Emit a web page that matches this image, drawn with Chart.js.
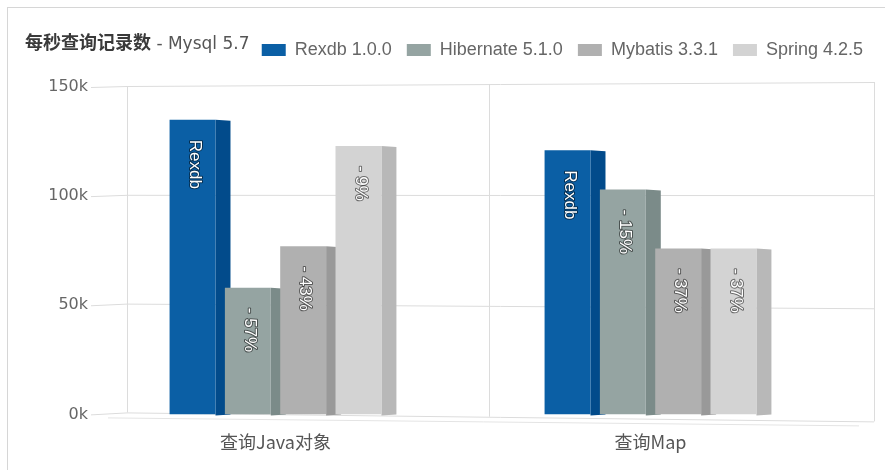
<!DOCTYPE html>
<html>
<head>
<meta charset="utf-8">
<script src="https://cdn.jsdelivr.net/npm/chart.js@4/dist/chart.umd.min.js"></script>
<style>
  body { margin: 0; background: #fff; }
  #wrap { position: relative; width: 885px; height: 470px; overflow: hidden; }
  #frame { position: absolute; left: 7px; top: 7px; width: 920px; height: 520px; border: 1px solid #d6d6d6; }
  #title { position: absolute; left: 25px; top: 28px; font: 17px "DejaVu Sans", sans-serif; color: #555; white-space: nowrap; }
  #title b { font: bold 18px "Noto Sans CJK SC", sans-serif; color: #3a3a3a; }
  canvas { position: absolute; left: 0; top: 0; }
</style>
</head>
<body>
<div id="wrap">
  <div id="frame"></div>
  <canvas id="chart" width="885" height="470"></canvas>
  <div id="title"><b>每秒查询记录数</b> - Mysql 5.7</div>
</div>
<script>
// data
const categories = ['查询Java对象', '查询Map'];
const seriesNames = ['Rexdb 1.0.0', 'Hibernate 5.1.0', 'Mybatis 3.3.1', 'Spring 4.2.5'];
const rexdbValues = [135000, 121000];
const hibernateValues = [58000, 103000];
const mybatisValues = [77000, 76000];
const springValues = [123000, 76000];
const yTickValues = [0, 50000, 100000, 150000];

const frontColors = ['#0b5fa5', '#95a4a2', '#b0b0b0', '#d3d3d3'];
const sideColors = ['#024b8b', '#7b8b89', '#999999', '#b8b8b8'];
const SIDE = 15;

// push the plot down below the legend row
const legendGap = {
  id: 'legendGap',
  beforeInit(chart) {
    const fit = chart.legend.fit;
    chart.legend.fit = function () {
      fit.bind(chart.legend)();
      this.height += 18;
    };
  }
};

// fake 3d: back wall, grid, bar side faces, rotated labels
const depth3d = {
  id: 'depth3d',
  beforeDatasetsDraw(chart) {
    const ctx = chart.ctx, a = chart.chartArea, xs = chart.scales.x, ys = chart.scales.y;
    const L = a.left + 39, R = a.right + 36;
    const topY = px => a.top - 1 - 4 * (px - L) / (R - L);
    const botY = px => a.bottom - 2 + 9 * (px - L) / (R - L);
    ctx.save();
    ctx.strokeStyle = '#dcdcdc';
    ctx.lineWidth = 1;
    ys.ticks.forEach(t => {
      const py = ys.getPixelForValue(t.value);
      const f = (py - a.top) / (a.bottom - a.top);
      const dl = -1 - f, dr = -5 + f * 12;
      ctx.beginPath();
      ctx.moveTo(a.left + 3, py + 0.5);
      ctx.lineTo(L, py + dl + 0.5);
      ctx.lineTo(R, py + dr + 0.5);
      ctx.stroke();
    });
    const mid = (xs.getPixelForTick(0) + xs.getPixelForTick(1)) / 2 + 26;
    [L, mid, R].forEach(px => {
      ctx.beginPath();
      ctx.moveTo(Math.round(px) + 0.5, topY(px));
      ctx.lineTo(Math.round(px) + 0.5, botY(px));
      ctx.stroke();
    });
    ctx.strokeStyle = '#e4e4e4';
    ctx.beginPath();
    ctx.moveTo(a.left + 20, a.bottom + 3.5);
    ctx.lineTo(R - 15, a.bottom + 11.5);
    ctx.stroke();

    chart.data.datasets.forEach((ds, i) => {
      chart.getDatasetMeta(i).data.forEach(bar => {
        const p = bar.getProps(['x', 'y', 'base', 'width'], true);
        const r = p.x + p.width / 2;
        ctx.fillStyle = sideColors[i];
        ctx.beginPath();
        ctx.moveTo(r, p.y);
        ctx.lineTo(r + SIDE, p.y + 1);
        ctx.lineTo(r + SIDE, p.base);
        ctx.lineTo(r, p.base + 1);
        ctx.closePath();
        ctx.fill();
      });
    });
    ctx.restore();
  },
  afterDatasetsDraw(chart) {
    const ctx = chart.ctx;
    const base = chart.data.datasets[0].data;
    ctx.save();
    ctx.font = '17px "Liberation Sans", sans-serif';
    ctx.textAlign = 'left';
    ctx.textBaseline = 'middle';
    ctx.lineJoin = 'round';
    chart.data.datasets.forEach((ds, i) => {
      chart.getDatasetMeta(i).data.forEach((bar, j) => {
        const v = ds.data[j];
        const label = i === 0 ? seriesNames[0].split(' ')[0]
          : '- ' + Math.round((1 - v / base[j]) * 100) + '%';
        const p = bar.getProps(['x', 'y'], true);
        ctx.save();
        ctx.translate(p.x + 2, p.y + 20);
        ctx.rotate(Math.PI / 2);
        ctx.strokeStyle = 'rgba(0,0,0,0.5)';
        ctx.lineWidth = 2;
        ctx.strokeText(label, 0, 0);
        ctx.fillStyle = '#fff';
        ctx.fillText(label, 0, 0);
        ctx.restore();
      });
    });
    ctx.restore();
  }
};

const allValues = [rexdbValues, hibernateValues, mybatisValues, springValues];

new Chart(document.getElementById('chart'), {
  type: 'bar',
  data: {
    labels: categories,
    datasets: seriesNames.map((name, i) => ({
      label: name,
      data: allValues[i],
      backgroundColor: frontColors[i],
      borderWidth: 0,
      categoryPercentage: 0.59,
      barPercentage: 0.83
    }))
  },
  options: {
    responsive: false,
    animation: false,
    layout: { padding: { top: 26, right: 7, bottom: 0, left: 0 } },
    plugins: {
      tooltip: { enabled: false },
      legend: {
        position: 'top',
        align: 'end',
        labels: {
          boxWidth: 24,
          boxHeight: 12,
          padding: 15,
          color: '#666',
          font: { family: 'Liberation Sans', size: 18 }
        }
      }
    },
    scales: {
      x: {
        grid: { display: false, drawTicks: false },
        border: { display: false },
        ticks: {
          color: '#555',
          padding: 17,
          font: { family: 'Noto Sans CJK SC', size: 18 }
        }
      },
      y: {
        min: 0,
        max: 150000,
        afterFit: s => { s.width = 88; },
        afterBuildTicks: s => { s.ticks = yTickValues.map(v => ({ value: v })); },
        grid: { display: false, drawTicks: false },
        border: { display: false },
        ticks: {
          padding: 0,
          color: '#666',
          font: { family: 'DejaVu Sans', size: 16 },
          callback: v => (v / 1000) + 'k'
        }
      },
      yRight: {
        position: 'right',
        afterFit: s => { s.width = 40; },
        grid: { display: false, drawTicks: false },
        border: { display: false },
        ticks: { display: false }
      }
    }
  },
  plugins: [legendGap, depth3d]
});
</script>
</body>
</html>
